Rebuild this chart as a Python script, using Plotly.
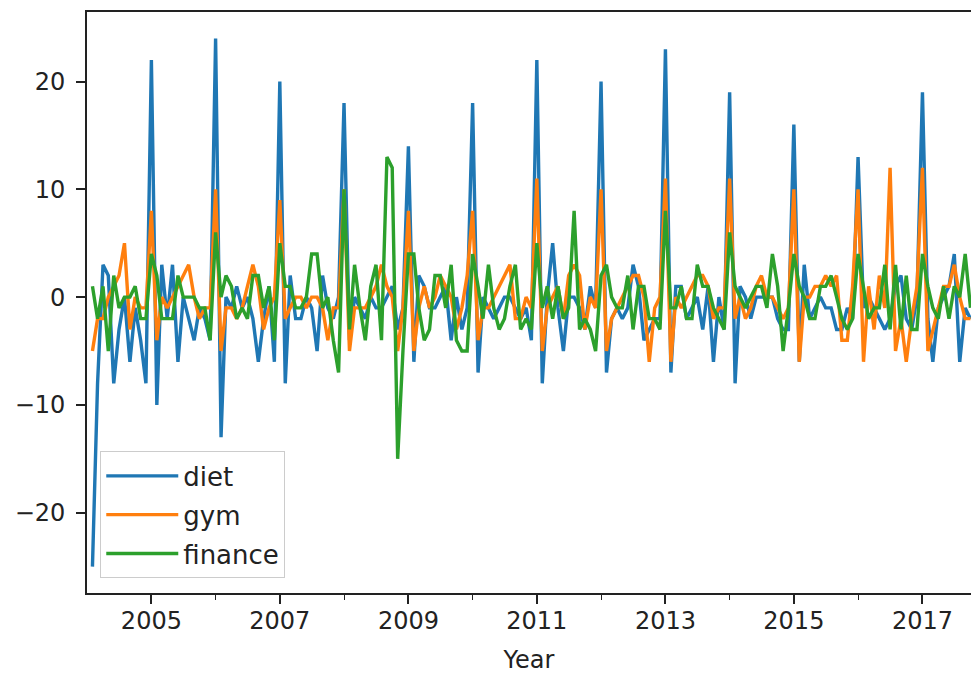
import pandas as pd
import plotly.graph_objects as go

# month-over-month change (Google Trends), first value = 2004-02
diet = [
    -25, -8, 3, 2, -8, -3, 0, -6, -1, -4, -8,
    22, -10, 3, -2, 3, -6, 0, -2, -4, -1, -2, -4,
    24, -13, 0, -1, 1, -1, 0, -2, -6, -2, 1, -6,
    20, -8, 2, -2, -2, 0, -1, -5, 2, -1, -2, 0,
    18, -4, 0, -1, -2, 0, -1, -1, 0, 1, -3, -1,
    14, -6, 2, 1, -1, -1, 0, 1, -4, 0, -3, -1,
    18, -7, 0, -1, -2, -1, 0, 0, -1, -2, -1, -4,
    22, -8, 0, 5, -1, -5, 0, 0, -1, -3, 1, -1,
    20, -7, -2, -1, -2, -1, 3, 1, -4, -3, -2, -2,
    23, -7, 1, 1, -2, -1, 0, -3, 1, -6, 0, -3,
    19, -8, 1, 0, -2, 0, 0, 0, 0, -2, -3, -3,
    16, -6, 3, -2, -1, 0, -1, -1, -3, -3, -1, -2,
    13, -1, 0, -1, -2, -3, -2, 1, 2, -2, -3, 0,
    19, -2, -6, -1, 0, 1, 4, -6, -1, -2,
]
gym = [
    -5, -2, -2, 0, 1, 2, 5, -3, 0, -1, -1,
    8, -4, 0, -1, 0, 1, 2, 3, 0, -2, -1, -1,
    10, -5, -1, -1, -2, -1, 1, 3, 1, -3, -1, 0,
    9, -2, -1, 0, 0, -1, 0, 0, -1, -4, -1, -1,
    10, -5, -1, -1, -1, 0, 1, 3, 1, 0, -5, -1,
    8, -5, -1, 1, -1, 0, 2, 1, 0, -3, -1, 2,
    8, -4, -1, -1, 0, 1, 2, 3, -2, -2, 0, -1,
    11, -5, -1, 0, 1, -2, 2, 3, 2, -3, 0, -1,
    10, -5, -2, -1, 0, 1, 2, 2, 0, -6, -1, 0,
    11, -6, 0, -1, 0, 1, 2, 2, 1, -2, -1, -1,
    11, -2, 0, -2, -1, 1, 2, 0, 0, -1, -2, -1,
    10, -6, 0, 0, 1, 1, 2, 1, 2, -4, -4, 1,
    10, -6, 1, -3, 2, -1, 12, -5, -2, -6, -2, 1,
    12, -5, -3, -1, 1, 1, 3, 0, -2, -2,
]
finance = [
    1, -2, 1, -5, 2, -1, 0, 0, 1, -2, -2,
    4, 2, -2, -2, -2, 2, 0, 0, 0, -1, -1, -4,
    6, 0, 2, 1, -2, -1, -2, 2, 2, -1, 1, -4,
    5, 1, 1, -1, -1, 0, 4, 4, -1, 0, -4, -7,
    10, -3, 3, -1, -4, 1, 3, -4, 13, 12, -15, -5,
    4, 4, -1, -4, -3, 2, 2, -1, 3, -4, -5, -5,
    4, 1, -2, 3, -1, -3, -2, 1, 3, -3, -2, -3,
    5, -1, 1, -2, 1, -2, -1, 8, -3, -2, -3, -5,
    2, 3, 0, -1, -1, 2, -3, 1, 1, -2, -2, -3,
    8, -1, -1, 1, -2, -2, 3, 1, 1, -1, -2, -3,
    6, 1, 0, -1, 0, 1, 1, -1, 4, 1, -5, -1,
    4, 1, 0, -2, -2, 1, 1, 2, 0, -2, -3, -2,
    4, 1, -2, -1, -1, 3, -3, 3, -3, 2, -3, -3,
    4, 1, -1, -2, 1, -2, 1, 0, 4, -1,
]

months = pd.date_range("2004-02-01", periods=len(diet), freq="MS")
major_years = [2005, 2007, 2009, 2011, 2013, 2015, 2017]
minor_years = [2006, 2008, 2010, 2012, 2014, 2016]

FONT = "DejaVu Sans"
series = [("diet", diet, "#1f77b4"), ("gym", gym, "#ff7f0e"), ("finance", finance, "#2ca02c")]

fig = go.Figure()
for name, vals, col in series:
    fig.add_trace(go.Scatter(x=months, y=vals, mode="lines", name=name, legendgroup=name,
                             line=dict(color=col, width=3.4)))

fig.update_layout(
    width=971, height=675,
    margin=dict(l=87, r=0, t=12, b=82),
    paper_bgcolor="white", plot_bgcolor="white",
    font=dict(family=FONT, size=24, color="#222"),
    showlegend=True,
    legend=dict(x=0.015, y=0.025, xanchor="left", yanchor="bottom",
                bgcolor="rgba(255,255,255,0.8)", bordercolor="#cccccc", borderwidth=1,
                font=dict(size=26), traceorder="grouped", tracegroupgap=2,
                itemwidth=72),
)
fig.update_xaxes(
    type="date", range=["2004-01-01", "2017-10-04"],
    showline=True, linecolor="#222", linewidth=1.6, mirror=True,
    showgrid=False, zeroline=False,
    ticks="outside", ticklen=9, tickwidth=1.5, tickcolor="#222",
    ticklabelstandoff=-4,
    tickvals=[f"{y}-01-01" for y in major_years], ticktext=[str(y) for y in major_years],
    minor=dict(tickvals=[f"{y}-01-01" for y in minor_years], ticks="outside",
               ticklen=5, tickwidth=1.2, tickcolor="#222", showgrid=False),
    title=dict(text="Year", standoff=18, font=dict(size=24)),
)
fig.update_yaxes(
    range=[-27.45, 26.45],
    showline=True, linecolor="#222", linewidth=1.6, mirror=False,
    showgrid=False, zeroline=False,
    ticks="outside", ticklen=9, tickwidth=1.5, tickcolor="#222",
    ticklabelstandoff=6,
    tickvals=[-20, -10, 0, 10, 20],
)

fig.write_html("out.html", config={"displayModeBar": False},
               post_script="document.body.style.margin='0';")
